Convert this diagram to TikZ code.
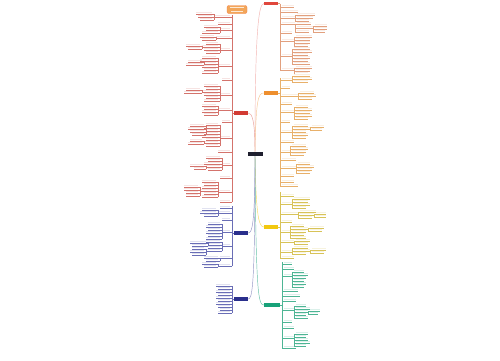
\documentclass[tikz,border=0pt]{standalone}
\definecolor{cR1}{HTML}{E0463C}
\definecolor{lR1}{HTML}{E2A07E}
\definecolor{cR2}{HTML}{EE8F2E}
\definecolor{lR2}{HTML}{E8B06A}
\definecolor{cR3}{HTML}{F2C80F}
\definecolor{lR3}{HTML}{D8C358}
\definecolor{cR4}{HTML}{17A279}
\definecolor{lR4}{HTML}{4DB594}
\definecolor{cL1}{HTML}{D23B33}
\definecolor{lL1}{HTML}{D4736C}
\definecolor{cL}{HTML}{2A2F8C}
\definecolor{lL}{HTML}{6A6EB6}
\definecolor{ctr}{HTML}{1F1F2E}
\definecolor{ttl}{HTML}{F2A65A}
\tikzset{
  lnk/.style={line width=0.3pt},
  branch/.style={rectangle, inner sep=0pt, minimum width=14pt, minimum height=3.4pt, draw=none},
  curve/.style={line width=0.45pt},
}
\newcommand{\gR}[6]{%
  \draw[#1,lnk] (#2,#3) -- (#2,#4);
  \foreach \yy/\ll in {#6}{
    \draw[#1,lnk] (#2,\yy) -- ({#5+\ll},\yy);
    \fill[#1!20] (#5,{\yy-1.8}) rectangle ({#5+\ll},{\yy-0.6});
  }}
\newcommand{\gL}[6]{%
  \draw[#1,lnk] (#2,#3) -- (#2,#4);
  \foreach \yy/\ll in {#6}{
    \draw[#1,lnk] (#2,\yy) -- ({#5-\ll},\yy);
    \fill[#1!20] ({#5-\ll},{\yy-1.8}) rectangle (#5,{\yy-0.6});
  }}
\begin{document}
\begin{tikzpicture}[x=1pt,y=-1pt]
\fill[white] (0,0) rectangle (500,360);
\useasboundingbox (0,0) rectangle (500,360);

% title box
\node[rectangle, rounded corners=2pt, fill=ttl, draw=ttl!80!red, line width=0.4pt,
      minimum width=20pt, minimum height=8pt, inner sep=0pt] (title) at (237,9.5) {};
\fill[white!75!ttl] (230,7.3) rectangle (244,8.3);
\fill[white!75!ttl] (231,10.8) rectangle (243,11.8);

% central and branch nodes
\node[branch, fill=ctr, minimum width=15pt, minimum height=4pt] (nC) at (255,154) {};
\node[branch, fill=cR1] (nR1) at (271,3.5) {};
\node[branch, fill=cR2] (nR2) at (271,93) {};
\node[branch, fill=cR3] (nR3) at (271,227) {};
\node[branch, fill=cR4, minimum width=16pt] (nR4) at (272,305) {};
\node[branch, fill=cL1] (nL1) at (241,113) {};
\node[branch, fill=cL] (nL2) at (241,233) {};
\node[branch, fill=cL] (nL3) at (241,299) {};

% main connectors
\draw[curve, cR1!40] (nC.north) .. controls (255,40) and (258,3.5) .. (nR1.west);
\draw[curve, cR2!50] (nC.north) .. controls (256,100) and (258,93) .. (nR2.west);
\draw[curve, cR3!65] (nC.south) .. controls (256,210) and (258,227) .. (nR3.west);
\draw[curve, cR4!65] (nC.south) .. controls (256,290) and (258,305) .. (nR4.west);
\draw[curve, cL1!50] (nC.north) .. controls (255,120) and (252,113) .. (nL1.east);
\draw[curve, cL!50] (nC.south) .. controls (255,225) and (252,233) .. (nL2.east);
\draw[curve, cL!50] (nC.south) .. controls (255,290) and (252,299) .. (nL3.east);

% ---------- R1 ----------
\draw[lR1,lnk] (nR1.east) -- ++(2,0);
\gR{lR1}{280}{3.5}{70}{282}{7/12,12/16,18/13,24/13,33/10,41/12,56/10,70/12}
\gR{lR1}{295}{15}{21}{297}{15/18,18/16,21/12}
\gR{lR1}{295}{24}{32}{297}{24/14,28/16,32/12}
\gR{lR1}{313}{26}{32}{315}{26/12,29/12,32/10}
\gR{lR1}{294}{37}{46}{296}{37/16,40/14,43/14,46/12}
\gR{lR1}{292}{49}{64}{294}{49/16,52/18,55/14,58/16,61/14,64/16}
\gR{lR1}{294}{68}{74}{296}{68/16,71/14,74/12}

% ---------- R2 ----------
\draw[lR2,lnk] (nR2.east) -- ++(2,0);
\gR{lR2}{280}{78}{186}{282}{80/10,88/8,96/16,104/10,112/12,122/8,132/10,142/12,152/8,160/14,168/14,176/12,182/12,186/16}
\gR{lR2}{292}{76}{82}{294}{76/16,79/18,82/14}
\gR{lR2}{298}{93}{99}{300}{93/14,96/16,99/12}
\gR{lR2}{294}{107}{119}{296}{107/12,110/16,113/14,116/16,119/12}
\gR{lR2}{292}{126}{138}{294}{126/14,129/16,132/12,135/14,138/12}
\gR{lR2}{310}{127}{130}{312}{127/12,130/10}
\gR{lR2}{290}{146}{155}{292}{146/14,149/16,152/14,155/12}
\gR{lR2}{296}{164}{173}{298}{164/12,167/16,170/14,173/12}

% ---------- R3 ----------
\draw[lR3,lnk] (nR3.east) -- ++(2,0);
\gR{lR3}{280}{192}{258}{282}{196/12,204/10,214/16,222/10,232/8,242/12,252/10,258/12}
\gR{lR3}{292}{199}{208}{294}{199/16,202/14,205/16,208/12}
\gR{lR3}{298}{212}{218}{300}{212/16,215/14,218/12}
\gR{lR3}{314}{214}{217}{316}{214/10,217/10}
\gR{lR3}{290}{226}{238}{292}{226/12,229/16,232/14,235/12,238/14}
\gR{lR3}{308}{228}{231}{310}{228/14,231/12}
\gR{lR3}{294}{241}{244}{296}{241/14,244/12}
\gR{lR3}{292}{248}{254}{294}{248/14,251/16,254/12}
\gR{lR3}{310}{250}{253}{312}{250/14,253/12}

% ---------- R4 ----------
\draw[lR4,lnk] (nR4.east) -- ++(2,0);
\gR{lR4}{282}{262}{348}{284}{264/8,269/10,276/8,291/14,296/16,301/12,310/10,322/8,328/10,338/10,348/12}
\gR{lR4}{292}{272}{287}{294}{272/10,275/14,278/12,281/10,284/12,287/10}
\gR{lR4}{294}{306}{318}{296}{306/10,309/14,312/12,315/10,318/12}
\gR{lR4}{308}{311}{314}{310}{311/10,314/8}
\gR{lR4}{294}{334}{346}{296}{334/12,337/10,340/12,343/14,346/10}

% ---------- L1 ----------
\draw[lL1,lnk] (nL1.west) -- ++(-2,0);
\gL{lL1}{232}{15}{202}{230}{17/16,24/12,30/10,38/14,50/10,66/12,80/8,95/10,110/12,122/8,138/10,152/12,165/8,178/10,192/12,202/10}
\gL{lL1}{214}{14}{20}{212}{14/16,17/14,20/12}
\gL{lL1}{220}{27}{33}{218}{27/14,30/12,33/16}
\gL{lL1}{216}{37}{40}{214}{37/14,40/12}
\gL{lL1}{220}{44}{53}{218}{44/12,47/16,50/14,53/12}
\gL{lL1}{202}{46}{49}{200}{46/14,49/12}
\gL{lL1}{218}{58}{73}{216}{58/14,61/16,64/12,67/14,70/12,73/14}
\gL{lL1}{204}{62}{65}{202}{62/14,65/16}
\gL{lL1}{220}{86}{101}{218}{86/14,89/12,92/16,95/14,98/12,101/14}
\gL{lL1}{202}{90}{93}{200}{90/14,93/16}
\gL{lL1}{218}{106}{115}{216}{106/14,109/12,112/14,115/12}
\gL{lL1}{220}{125}{146}{218}{125/12,128/14,131/12,134/14,137/16,140/12,143/14,146/12}
\gL{lL1}{206}{126}{135}{204}{126/14,129/16,132/14,135/12}
\gL{lL1}{204}{141}{144}{202}{141/12,144/14}
\gL{lL1}{222}{158}{170}{220}{158/14,161/12,164/16,167/14,170/12}
\gL{lL1}{206}{166}{169}{204}{166/14,169/10}
\gL{lL1}{218}{182}{197}{216}{182/14,185/12,188/14,191/16,194/12,197/14}
\gL{lL1}{200}{187}{196}{198}{187/14,190/14,193/12,196/12}

% ---------- L2 ----------
\draw[lL,lnk] (nL2.west) -- ++(-2,0);
\gL{lL}{232}{206}{266}{230}{208/10,213/12,220/8,232/8,246/8,258/10,266/12}
\gL{lL}{218}{210}{216}{216}{210/14,213/16,216/12}
\gL{lL}{222}{224}{239}{220}{224/12,227/14,230/12,233/14,236/12,239/14}
\gL{lL}{222}{242}{251}{220}{242/14,245/12,248/12,251/14}
\gL{lL}{208}{243}{246}{206}{243/16,246/14}
\gL{lL}{206}{249}{255}{204}{249/12,252/14,255/12}
\gL{lL}{220}{258}{261}{218}{258/14,261/12}
\gL{lL}{218}{264}{267}{216}{264/14,267/12}

% ---------- L3 ----------
\draw[lL,lnk] (nL3.west) -- ++(-2,0);
\gL{lL}{232}{286}{313}{230}{286/14,289/12,292/14,295/12,298/14,301/12,304/14,307/12,310/10,313/12}
\end{tikzpicture}
\end{document}
